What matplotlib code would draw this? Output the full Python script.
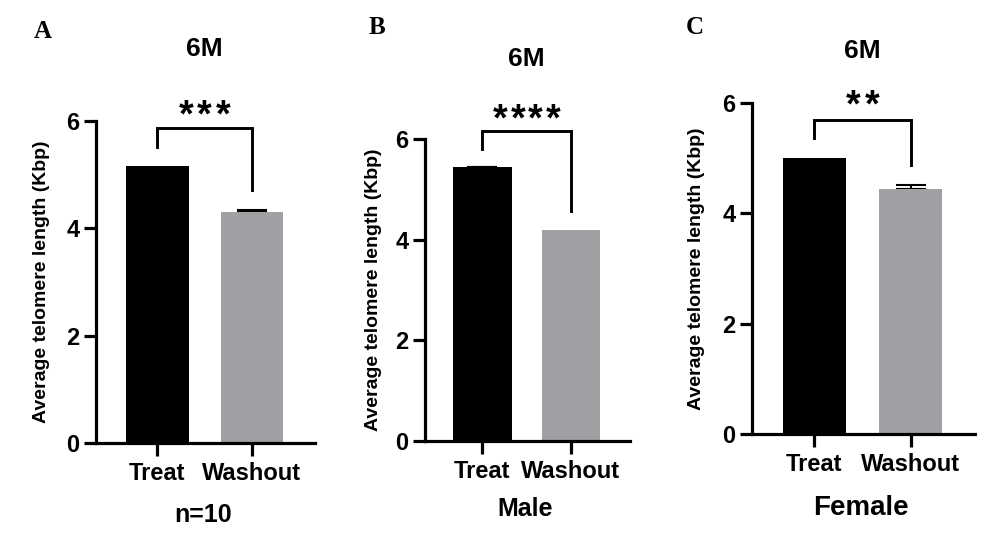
import matplotlib
matplotlib.use("Agg")
import matplotlib.pyplot as plt
from matplotlib.transforms import offset_copy, blended_transform_factory

plt.rcParams["font.family"] = ["Liberation Sans", "DejaVu Sans"]
plt.rcParams["font.weight"] = "bold"
plt.rcParams["axes.labelweight"] = "bold"

# Data (Kbp)
groups = ["Treat", "Washout"]
means_a = [5.16, 4.30]
err_a = [0.0, 0.04]
means_b = [5.44, 4.20]
err_b = [0.01, 0.0]
means_c = [5.00, 4.45]
err_c = [0.0, 0.06]

panel_letters = ["A", "B", "C"]
panel_titles = ["6M", "6M", "6M"]
panel_xlabels = ["n=10", "Male", "Female"]
stars = ["***", "****", "**"]
yticks = [0, 2, 4, 6]

BAR_COLORS = ["#000000", "#a0a0a4"]
LW = 2.3

# Layout for each panel (figure pixels -> fractions done below)
panels = [
    dict(means=means_a, err=err_a, rect=(96, 121, 315, 443), letter=(43, 31),
         title_y=1.224, star_y=6.29, br_top=5.87, br_left=5.51, br_right=4.71,
         xlab_size=18),
    dict(means=means_b, err=err_b, rect=(425, 139, 630, 441), letter=(377, 27),
         title_y=1.264, star_y=6.59, br_top=6.15, br_left=5.80, br_right=4.57,
         xlab_size=18),
    dict(means=means_c, err=err_c, rect=(752, 103, 975, 434), letter=(695, 28),
         title_y=1.156, star_y=6.14, br_top=5.70, br_left=5.36, br_right=4.87,
         xlab_size=20),
]

W, H = 1000, 538
fig = plt.figure(figsize=(W / 100, H / 100), dpi=100)

for i, p in enumerate(panels):
    x0, y0, x1, y1 = p["rect"]
    ax = fig.add_axes([x0 / W, (H - y1) / H, (x1 - x0) / W, (y1 - y0) / H])
    xs = list(range(len(groups)))

    # error bars behind the bars, only the upper part shows
    for x, m, e in zip(xs, p["means"], p["err"]):
        if e > 0:
            ax.errorbar(x, m, yerr=[[0], [e]], fmt="none", ecolor="black",
                        elinewidth=1.5, capsize=11, capthick=1.5, zorder=1)
    ax.bar(xs, p["means"], width=0.66, color=BAR_COLORS, zorder=2)

    ax.set_xlim(-0.65, 1.67)
    ax.set_ylim(0, 6)
    ax.set_yticks(yticks)
    ax.set_xticks(xs)
    ax.set_xticklabels(groups, fontsize=17)
    ax.tick_params(axis="y", labelsize=17, length=9, width=LW, pad=3)
    ax.tick_params(axis="x", length=9, width=LW, pad=5)
    for s in ["top", "right"]:
        ax.spines[s].set_visible(False)
    for s in ["left", "bottom"]:
        ax.spines[s].set_linewidth(LW)

    ax.set_ylabel("Average telomere length (Kbp)", fontsize=14)
    ax.yaxis.set_label_coords(-0.21, 0.5)
    ax.set_xlabel(panel_xlabels[i], fontsize=p["xlab_size"])
    ax.xaxis.set_label_coords(0.49, -0.185)

    # title above the bars
    bt = blended_transform_factory(ax.transData, ax.transAxes)
    ax.text(0.5, p["title_y"], panel_titles[i], transform=bt, ha="center",
            va="center", fontsize=19)

    # significance bracket
    ax.plot([0, 0, 1, 1], [p["br_left"], p["br_top"], p["br_top"], p["br_right"]],
            color="black", lw=2.1, clip_on=False, solid_joinstyle="miter")
    n = len(stars[i])
    tr = offset_copy(ax.transData, fig=fig, y=-15, units="points")
    for k in range(n):
        ax.text(0.5 + (k - (n - 1) / 2) * 0.2, p["star_y"], "*", transform=tr,
                ha="center", va="baseline", fontsize=27, clip_on=False)

    lx, ly = p["letter"]
    fig.text(lx / W, 1 - ly / H, panel_letters[i], ha="center", va="center",
             fontsize=18, family="Liberation Serif", weight="bold")

fig.savefig("out.png", dpi=100)
